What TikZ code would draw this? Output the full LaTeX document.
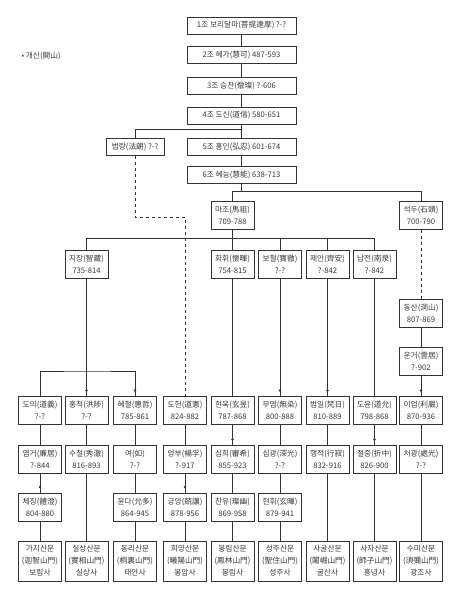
\documentclass[tikz,border=0pt]{standalone}
\usepackage{fontspec}
\setmainfont{Noto Sans CJK KR}
\usepackage{tikz}
\usetikzlibrary{positioning}
\definecolor{lineC}{HTML}{333333}
\definecolor{textC}{HTML}{3A3A3A}
\newcommand{\lblOpen}{개산(開山)}
\newcommand{\lblGaji}{가지산문\\(迦智山門)\\보림사}
\newcommand{\lblSilsang}{실상산문\\(實相山門)\\실상사}
\newcommand{\lblDongri}{동리산문\\(桐裏山門)\\태안사}
\newcommand{\lblHuiyang}{희양산문\\(曦陽山門)\\봉암사}
\newcommand{\lblBongrim}{봉림산문\\(鳳林山門)\\봉림사}
\newcommand{\lblSeongju}{성주산문\\(聖住山門)\\성주사}
\newcommand{\lblSagul}{사굴산문\\(闍崛山門)\\굴산사}
\newcommand{\lblSaja}{사자산문\\(師子山門)\\흥녕사}
\newcommand{\lblSumi}{수미산문\\(須彌山門)\\광조사}

\begin{document}
\begin{tikzpicture}[
  x=1pt, y=-1pt,
  font=\fontsize{7.7}{12}\selectfont,
  box/.style  ={draw=lineC, fill=white, text=textC, align=center,
                inner sep=1.5pt, minimum width=43pt, minimum height=28pt,
                line width=0.7pt},
  pat/.style  ={box, minimum width=109pt, minimum height=17pt},
  hall/.style ={box, minimum height=40pt},
  tie/.style  ={draw=lineC, line width=0.7pt},
  lost/.style ={tie, dashed},
  dot/.style  ={circle, fill=lineC, inner sep=0pt, minimum size=2.8pt},
]
\useasboundingbox (0,0) rectangle (458,599);

% ---- geometry --------------------------------------------------------------
\def\cT{241.5}
\def\cA{40}    \def\cB{86.5}  \def\cC{135}
\def\cD{185}   \def\cE{232.5} \def\cF{280}
\def\cG{327.5} \def\cH{374.5} \def\cI{421}
\def\rA{215.5} \def\rB{264.5} \def\rC{410.5}
\def\rD{459.5} \def\rE{507}   \def\rF{561}

\node[anchor=west, text=textC] (legend) at (18,56) {• \lblOpen};

% ---- the six patriarchs ----------------------------------------------------
\node[pat] (p1) at (\cT,25.5)  {1조 보리달마(菩提達摩) ?-?};
\node[pat] (p2) at (\cT,55)    {2조 혜가(慧可) 487-593};
\node[pat] (p3) at (\cT,86)    {3조 승찬(僧璨) ?-606};
\node[pat] (p4) at (\cT,115.5) {4조 도신(道信) 580-651};
\node[pat] (p5) at (\cT,147)   {5조 홍인(弘忍) 601-674};
\node[pat] (p6) at (\cT,175)   {6조 혜능(慧能) 638-713};
\node[box, minimum width=58pt, minimum height=17pt] (bl) at (\cC,147)
  {법랑(法朗) ?-?};

\draw[tie] (p1) -- (p2);
\draw[tie] (p2) -- (p3);
\draw[tie] (p3) -- (p4);
\draw[tie] (p4) -- (p5);
\draw[tie] (p5) -- (p6);

\coordinate (j4) at (\cT,129);
\draw[tie] (j4) -| (bl);

% ---- Mazu and Shitou -------------------------------------------------------
\node[box] (mz) at (\cE,\rA) {마조(馬祖)\\709-788};
\node[box] (sd) at (\cI,\rA) {석두(石頭)\\700-790};

\coordinate (j6) at (\cT,191.5);
\draw[tie] (p6) -- (j6);
\draw[tie] (mz) |- (j6) -| (sd);

% ---- Mazu's heirs ----------------------------------------------------------
\node[box] (jj) at (\cB,\rB) {지장(智藏)\\735-814};
\node[box] (hw) at (\cE,\rB) {회휘(懷暉)\\754-815};
\node[box] (bc) at (\cF,\rB) {보철(寶徹)\\?-?};
\node[box] (ja) at (\cG,\rB) {제안(齊安)\\?-842};
\node[box] (nj) at (\cH,\rB) {남전(南泉)\\?-842};

\coordinate (j7) at (\cE,238.5);
\draw[tie] (mz) -- (hw);
\draw[tie] (jj) |- (j7) -| (nj);
\draw[tie] (bc) -- (bc |- j7);
\draw[tie] (ja) -- (ja |- j7);

% Shitou line, side column
\node[box] (ds) at (\cI,313.5) {동산(洞山)\\807-869};
\node[box] (ug) at (\cI,361.5) {운거(雲居)\\?-902};
\draw[lost] (sd) -- (ds);
\draw[tie]  (ds) -- (ug);

% ---- third row -------------------------------------------------------------
\node[box] (dy)  at (\cA,\rC) {도의(道義)\\?-?};
\node[box] (hc)  at (\cB,\rC) {홍척(洪陟)\\?-?};
\node[box] (hch) at (\cC,\rC) {혜철(惠哲)\\785-861};
\node[box] (dh)  at (\cD,\rC) {도헌(道憲)\\824-882};
\node[box] (hu)  at (\cE,\rC) {현욱(玄昱)\\787-868};
\node[box] (my)  at (\cF,\rC) {무염(無染)\\800-888};
\node[box] (bi)  at (\cG,\rC) {범일(梵日)\\810-889};
\node[box] (dyn) at (\cH,\rC) {도윤(道允)\\798-868};
\node[box] (ie)  at (\cI,\rC) {이엄(利嚴)\\870-936};

\coordinate (j8) at (\cB,371);
\draw[tie] (jj) -- (hc);
\draw[tie] (dy) |- (j8) -| (hch);
\draw[tie] (hw) -- (hu);
\draw[tie] (bc) -- (my);
\draw[tie] (ja) -- (bi);
\draw[tie] (nj) -- (dyn);
\draw[tie] (ug) -- (ie);

% Beomnang's line, broken
\coordinate (k1) at (\cD,217);
\draw[lost] (bl) |- (k1) -- (dh);

% ---- fourth row ------------------------------------------------------------
\node[box] (yg)  at (\cA,\rD) {염거(廉居)\\?-844};
\node[box] (sc)  at (\cB,\rD) {수철(秀澈)\\816-893};
\node[box] (yeo) at (\cC,\rD) {여(如)\\?-?};
\node[box] (yb)  at (\cD,\rD) {양부(楊孚)\\?-917};
\node[box] (sh)  at (\cE,\rD) {심희(審希)\\855-923};
\node[box] (sg)  at (\cF,\rD) {심광(深光)\\?-?};
\node[box] (hj)  at (\cG,\rD) {행적(行寂)\\832-916};
\node[box] (jjg) at (\cH,\rD) {절중(折中)\\826-900};
\node[box] (cg)  at (\cI,\rD) {처광(處光)\\?-?};

\draw[tie] (dy)  -- (yg);
\draw[tie] (hc)  -- (sc);
\draw[tie] (hch) -- (yeo);
\draw[tie] (dh)  -- (yb);
\draw[tie] (hu)  -- (sh);
\draw[tie] (my)  -- (sg);
\draw[tie] (bi)  -- (hj);
\draw[tie] (dyn) -- (jjg);
\draw[tie] (ie)  -- (cg);

% ---- fifth row -------------------------------------------------------------
\node[box] (cj) at (\cA,\rE) {체징(體澄)\\804-880};
\node[box] (yd) at (\cC,\rE) {윤다(允多)\\864-945};
\node[box] (gy) at (\cD,\rE) {긍양(兢讓)\\878-956};
\node[box] (cy) at (\cE,\rE) {찬유(璨幽)\\869-958};
\node[box] (hh) at (\cF,\rE) {현휘(玄暉)\\879-941};

\draw[tie] (yg)  -- (cj);
\draw[tie] (yeo) -- (yd);
\draw[tie] (yb)  -- (gy);
\draw[tie] (sh)  -- (cy);
\draw[tie] (sg)  -- (hh);

% ---- the nine mountain gates -----------------------------------------------
\node[hall] (gaji)     at (\cA,\rF) {\lblGaji};
\node[hall] (silsang)  at (\cB,\rF) {\lblSilsang};
\node[hall] (dongri)   at (\cC,\rF) {\lblDongri};
\node[hall] (huiyang)  at (\cD,\rF) {\lblHuiyang};
\node[hall] (bongrim)  at (\cE,\rF) {\lblBongrim};
\node[hall] (seongju)  at (\cF,\rF) {\lblSeongju};
\node[hall] (sagul)    at (\cG,\rF) {\lblSagul};
\node[hall] (saja)     at (\cH,\rF) {\lblSaja};
\node[hall] (sumi)     at (\cI,\rF) {\lblSumi};

\draw[tie] (cj)  -- (gaji);
\draw[tie] (sc)  -- (silsang);
\draw[tie] (yd)  -- (dongri);
\draw[tie] (gy)  -- (huiyang);
\draw[tie] (cy)  -- (bongrim);
\draw[tie] (hh)  -- (seongju);
\draw[tie] (hj)  -- (sagul);
\draw[tie] (jjg) -- (saja);
\draw[tie] (cg)  -- (sumi);

% ---- dots above the receiving boxes ----------------------------------------
\node[dot, above=4.1pt of hc]  (hcdot)  {};
\node[dot, above=4.1pt of hch] (hchdot) {};
\node[dot, above=4.1pt of my]  (mydot)  {};
\node[dot, above=4.1pt of bi]  (bidot)  {};
\node[dot, above=4.1pt of ie]  (iedot)  {};
\node[dot, above=4.1pt of sh]  (shdot)  {};
\node[dot, above=4.1pt of jjg] (jjgdot) {};
\node[dot, above=4.1pt of cj]  (cjdot)  {};
\node[dot, above=4.1pt of gy]  (gydot)  {};

\end{tikzpicture}
\end{document}
